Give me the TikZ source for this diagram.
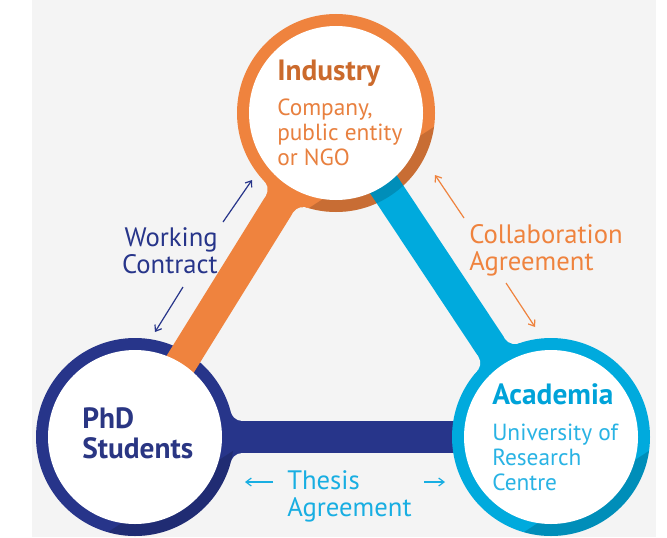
\documentclass[tikz,border=0pt]{standalone}
\usepackage{fontspec}
\setmainfont{PT Sans}
\usepackage{xcolor}
\usetikzlibrary{arrows.meta}

\definecolor{bggrey}{HTML}{F4F4F4}
\definecolor{orangec}{HTML}{EF833E}
\definecolor{navyc}{HTML}{27358A}
\definecolor{cyanc}{HTML}{00AADD}
\definecolor{indtitle}{HTML}{CB6A2C}
\definecolor{indtext}{HTML}{E8803F}
\definecolor{acatitle}{HTML}{00A3D9}
\definecolor{acatext}{HTML}{29B3E4}
\definecolor{phdtext}{HTML}{2A3683}
\definecolor{thesistext}{HTML}{18AEE2}

\begin{document}
\begin{tikzpicture}[
    x=0.75pt, y=0.75pt,
    band/.style={line width=24pt},
    shadow/.style={black, opacity=0.16},
    hubtitle/.style={
        anchor=base west,
        inner sep=0pt,
        font=\fontsize{22}{22}\selectfont\bfseries
    },
    hubtext/.style={
        anchor=base west,
        inner sep=0pt,
        align=left,
        font=\fontsize{17.5}{18.75}\selectfont
    },
    linklabel/.style={
        inner sep=0pt,
        font=\fontsize{20}{20.25}\selectfont
    },
    arrow/.style={-{Straight Barb[length=4pt, width=6pt]}, line width=0.9pt}
]
\useasboundingbox (0,0) rectangle (667,537);
\fill[bggrey] (32,0) rectangle (656,537);

% Hub centres
\coordinate (ind) at (336,424);
\coordinate (phd) at (135,100);
\coordinate (aca) at (551,100);

% Thesis band, joined to the PhD hub
\draw[band, navyc] (phd) -- (aca);
\begin{scope}[shift={(phd)}]
    \fill[navyc] (0,-25) rectangle (107.4,25);
    \fill[bggrey] (107.4,28) circle (12) (107.4,-28) circle (12);
\end{scope}

% Academia and PhD rings
\fill[cyanc] (aca) circle (99);
\fill[navyc] (phd) circle (99);

% Working band, joined to the Industry hub
\draw[band, orangec] (ind) -- (phd);
\begin{scope}[shift={(ind)}, rotate=238.2]
    \fill[orangec] (0,-25) rectangle (107.4,25);
    \fill[bggrey] (107.4,28) circle (12) (107.4,-28) circle (12);
\end{scope}
\fill[orangec] (ind) circle (99);

% Collaboration band, joined to the Academia hub
\draw[band, cyanc] (ind) -- (aca);
\begin{scope}[shift={(aca)}, rotate=123.6]
    \fill[cyanc] (0,-25) rectangle (107.4,25);
    \fill[bggrey] (107.4,28) circle (12) (107.4,-28) circle (12);
\end{scope}

% Shadows on the rings
\begin{scope}
    \clip (ind) circle (99);
    \fill[shadow, shift={(ind)}, rotate=-57] (65,-120) rectangle (120,120);
\end{scope}
\begin{scope}
    \clip (phd) circle (99);
    \fill[shadow, shift={(phd)}, rotate=-57] (65,-120) rectangle (120,120);
\end{scope}
\begin{scope}
    \clip (aca) circle (99);
    \fill[shadow, shift={(aca)}, rotate=-57] (65,-120) rectangle (120,120);
\end{scope}

% White hub faces
\fill[white] (ind) circle (87);
\fill[white] (phd) circle (87);
\fill[white] (aca) circle (87);

% Hub texts (base = last line)
\node[hubtitle, indtitle] (indname) at (277,457) {Industry};
\node[hubtext, indtext] (inddesc) at (277,372) {Company,\\public entity\\or NGO};
\node[hubtitle, acatitle] (acaname) at (492,133) {Academia};
\node[hubtext, acatext] (acadesc) at (492,47) {University of\\Research\\Centre};
\node[hubtitle, phdtext, align=left, font=\fontsize{22}{22.5}\selectfont\bfseries] (phdname) at (82,79) {PhD\\Students};

% Link labels
\node[linklabel, navyc, anchor=base east, align=right] (work) at (218,264) {Working\\Contract};
\node[linklabel, orangec, anchor=base west, align=left] (collab) at (469,267) {Collaboration\\Agreement};
\node[linklabel, thesistext, anchor=base west, align=left] (thesis) at (287,21) {Thesis\\Agreement};

% Arrow ends
\coordinate (work1) at (223,315);
\coordinate (work2) at (252,357);
\coordinate (work3) at (183,250);
\coordinate (work4) at (155,205);
\coordinate (collab1) at (464,319);
\coordinate (collab2) at (435,362);
\coordinate (collab3) at (506,254);
\coordinate (collab4) at (535,210);
\coordinate (thesis1) at (273,55);
\coordinate (thesis2) at (245,55);
\coordinate (thesis3) at (424,55);
\coordinate (thesis4) at (445,55);

% Arrows
\draw[arrow, navyc] (work1) -- (work2);
\draw[arrow, navyc] (work3) -- (work4);
\draw[arrow, orangec] (collab1) -- (collab2);
\draw[arrow, orangec] (collab3) -- (collab4);
\draw[arrow, thesistext] (thesis1) -- (thesis2);
\draw[arrow, thesistext] (thesis3) -- (thesis4);

\end{tikzpicture}
\end{document}
